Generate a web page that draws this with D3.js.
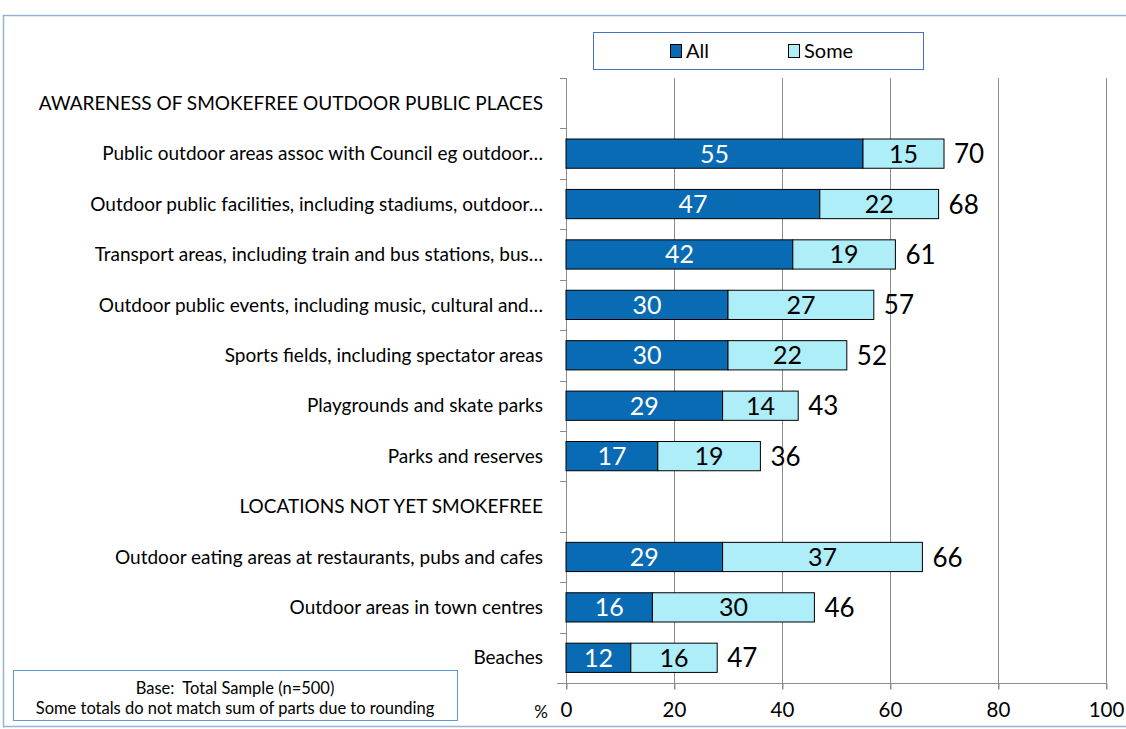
<!DOCTYPE html>
<html>
<head>
<meta charset="utf-8">
<script src="https://cdn.jsdelivr.net/npm/d3@7"></script>
<style>
  html, body { margin: 0; padding: 0; background: #fff; }
  svg { display: block; font-family: Lato, "Open Sans", sans-serif; }
  svg text { white-space: pre; }
</style>
</head>
<body>
<svg id="chart" width="1126" height="729"></svg>
<script>
// Row labels, top to bottom; section headings have no bars
const categories = [
  "AWARENESS OF SMOKEFREE OUTDOOR PUBLIC PLACES",
  "Public outdoor areas assoc with Council eg outdoor…",
  "Outdoor public facilities, including stadiums, outdoor…",
  "Transport areas, including train and bus stations, bus…",
  "Outdoor public events, including music, cultural and…",
  "Sports fields, including spectator areas",
  "Playgrounds and skate parks",
  "Parks and reserves",
  "LOCATIONS NOT YET SMOKEFREE",
  "Outdoor eating areas at restaurants, pubs and cafes",
  "Outdoor areas in town centres",
  "Beaches"
];
const headings = [
  "AWARENESS OF SMOKEFREE OUTDOOR PUBLIC PLACES",
  "LOCATIONS NOT YET SMOKEFREE"
];
const barCategories = categories.filter(c => !headings.includes(c));
const allValues  = [55, 47, 42, 30, 30, 29, 17, 29, 16, 12];
const someValues = [15, 22, 19, 27, 22, 14, 19, 37, 30, 16];
const totals     = [70, 68, 61, 57, 52, 43, 36, 66, 46, 47];
const xTicks = [0, 20, 40, 60, 80, 100];
const seriesNames = ["All", "Some"];
const colors = { All: "#0A6BB5", Some: "#AEEEF8" };

const svg = d3.select("#chart");

// Outer frame
svg.append("path")
  .attr("d", "M3.5,727.5 V15.5 H1126")
  .attr("fill", "none").attr("stroke", "#95B3D7").attr("stroke-width", 1.5);
svg.append("line")
  .attr("x1", 3).attr("x2", 1126).attr("y1", 726.5).attr("y2", 726.5)
  .attr("stroke", "#95B3D7").attr("stroke-width", 1.5);

const plot = { left: 566, right: 1106, top: 78, bottom: 683 };

const x = d3.scaleLinear().domain([0, 100]).range([plot.left, plot.right]);
const y = d3.scaleBand().domain(categories).range([plot.top, plot.bottom]).paddingInner(0.42).paddingOuter(0.21);
const yStep = y.step();

// Vertical gridlines
svg.append("g").selectAll("line")
  .data(xTicks.filter(t => t > 0))
  .join("line")
  .attr("x1", d => x(d) + 0.5).attr("x2", d => x(d) + 0.5)
  .attr("y1", plot.top).attr("y2", plot.bottom + 6)
  .attr("stroke", "#8C8C8C").attr("stroke-width", 1);

// Bottom axis
const xAxis = svg.append("g")
  .attr("transform", `translate(0,${plot.bottom + 0.5})`)
  .call(d3.axisBottom(x).tickValues(xTicks).tickSize(6).tickPadding(13).tickSizeOuter(0));
xAxis.select(".domain").remove();
xAxis.selectAll(".tick line").attr("stroke", "#8C8C8C").attr("transform", "translate(0.5,0)");
xAxis.selectAll(".tick text")
  .attr("font-size", 20.5).attr("fill", "#000")
  .attr("font-family", "Lato, 'Open Sans', sans-serif");
svg.append("line")
  .attr("x1", plot.left - 9).attr("x2", plot.right + 1)
  .attr("y1", plot.bottom + 0.5).attr("y2", plot.bottom + 0.5)
  .attr("stroke", "#8C8C8C");
svg.append("text")
  .attr("x", 541).attr("y", plot.bottom + 35)
  .attr("font-size", 17).attr("text-anchor", "middle").text("%");

// Left axis with category boundary ticks
svg.append("line")
  .attr("x1", plot.left + 0.5).attr("x2", plot.left + 0.5)
  .attr("y1", plot.top).attr("y2", plot.bottom + 6)
  .attr("stroke", "#8C8C8C");
svg.append("g").selectAll("line")
  .data(d3.range(categories.length))
  .join("line")
  .attr("x1", plot.left - 6).attr("x2", plot.left)
  .attr("y1", i => Math.round(plot.top + i * yStep) + 0.5)
  .attr("y2", i => Math.round(plot.top + i * yStep) + 0.5)
  .attr("stroke", "#8C8C8C");

// Category labels
svg.append("g").selectAll("text")
  .data(categories)
  .join("text")
  .attr("x", 543)
  .attr("y", d => y(d) + y.bandwidth() / 2)
  .attr("dy", "0.35em")
  .attr("text-anchor", "end")
  .attr("font-size", 19)
  .attr("fill", "#000")
  .text(d => d);

// Stacked bars
const rows = barCategories.map((c, i) => ({ cat: c, All: allValues[i], Some: someValues[i], total: totals[i] }));
const stack = d3.stack().keys(seriesNames)(rows);

const layers = svg.append("g").selectAll("g")
  .data(stack)
  .join("g");

layers.selectAll("rect")
  .data(s => s.map(d => ({ key: s.key, d })))
  .join("rect")
  .attr("x", o => x(o.d[0]))
  .attr("y", o => y(o.d.data.cat))
  .attr("width", o => x(o.d[1]) - x(o.d[0]))
  .attr("height", y.bandwidth())
  .attr("fill", o => colors[o.key])
  .attr("stroke", "#000").attr("stroke-width", 1);

layers.selectAll("text")
  .data(s => s.map(d => ({ key: s.key, d })))
  .join("text")
  .attr("x", o => (x(o.d[0]) + x(o.d[1])) / 2)
  .attr("y", o => y(o.d.data.cat) + y.bandwidth() / 2)
  .attr("dy", "0.36em")
  .attr("text-anchor", "middle")
  .attr("font-size", 25)
  .attr("fill", o => o.key === "All" ? "#fff" : "#000")
  .text(o => o.d[1] - o.d[0]);

// Total labels at the end of each stack
svg.append("g").selectAll("text")
  .data(rows)
  .join("text")
  .attr("x", d => x(d.All + d.Some) + 10)
  .attr("y", d => y(d.cat) + y.bandwidth() / 2)
  .attr("dy", "0.37em")
  .attr("font-size", 26)
  .attr("fill", "#000")
  .text(d => d.total);

// Legend
const legend = svg.append("g");
legend.append("rect")
  .attr("x", 593.5).attr("y", 32.5).attr("width", 330).attr("height", 37)
  .attr("fill", "#fff").attr("stroke", "#4472C4").attr("stroke-width", 1);
const legendItems = [{ name: "All", x: 670 }, { name: "Some", x: 788 }];
legendItems.forEach(it => {
  legend.append("rect")
    .attr("x", it.x + 0.5).attr("y", 44.5).attr("width", 11).attr("height", 13)
    .attr("fill", colors[it.name]).attr("stroke", "#000").attr("stroke-width", 1);
  legend.append("text")
    .attr("x", it.x + 16).attr("y", 51).attr("dy", "0.36em")
    .attr("font-size", 20).text(it.name);
});

// Footnote box
const note = svg.append("g");
note.append("rect")
  .attr("x", 13.5).attr("y", 670.5).attr("width", 444).attr("height", 50)
  .attr("fill", "#fff").attr("stroke", "#5B9BD5").attr("stroke-width", 1);
note.append("text")
  .attr("x", 235).attr("y", 688).attr("dy", "0.35em")
  .attr("text-anchor", "middle").attr("font-size", 16.5)
  .text("Base:  Total Sample (n=500)");
note.append("text")
  .attr("x", 235).attr("y", 708).attr("dy", "0.35em")
  .attr("text-anchor", "middle").attr("font-size", 16.5)
  .text("Some totals do not match sum of parts due to rounding");
</script>
</body>
</html>
